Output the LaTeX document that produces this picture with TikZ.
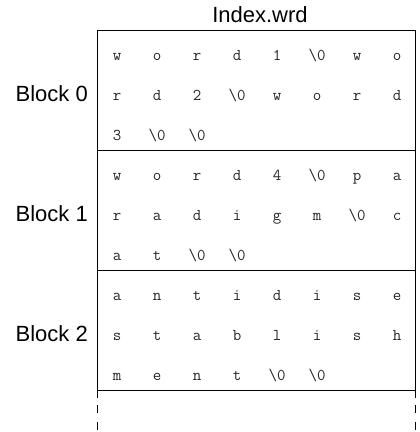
\documentclass[tikz,border=0pt]{standalone}
\usepackage{fontspec}
\setmainfont{Liberation Sans}
\begin{document}
\begin{tikzpicture}[x=1pt,y=-1pt,
  blockbox/.style={draw=black,line width=1pt,minimum width=318pt,minimum height=120pt,inner sep=0pt,outer sep=0pt},
  cell/.style={anchor=base,inner sep=0pt,text=black!85,font=\ttfamily\fontsize{16.5}{19}\selectfont},
  blabel/.style={anchor=base east,inner sep=0pt,font=\fontsize{22}{26}\selectfont},
  title/.style={anchor=base,inner sep=0pt,font=\fontsize{22}{26}\selectfont},
  contline/.style={line width=1pt,dash pattern=on 8pt off 7pt on 8pt off 9pt on 8pt off 10pt}]
\useasboundingbox (0,0) rectangle (420,432);
\node[title] (title) at (260,22) {Index.wrd};
\node[blockbox] (b0) at (256.5,90) {};
\node[blockbox] (b1) at (256.5,210) {};
\node[blockbox] (b2) at (256.5,330) {};
\node[blabel] (l0) at (88,101) {Block 0};
\node[blabel] (l1) at (88,221) {Block 1};
\node[blabel] (l2) at (88,341) {Block 2};
\def\zz{\symbol{92}0}
% block 0
\foreach \t [count=\i from 0] in {w,o,r,d,1,\zz,w,o}
  \node[cell] (a1-\i) at (117+40*\i,60) {\t};
\foreach \t [count=\i from 0] in {r,d,2,\zz,w,o,r,d}
  \node[cell] (a2-\i) at (117+40*\i,100) {\t};
\foreach \t [count=\i from 0] in {3,\zz,\zz}
  \node[cell] (a3-\i) at (117+40*\i,140) {\t};
% block 1
\foreach \t [count=\i from 0] in {w,o,r,d,4,\zz,p,a}
  \node[cell] (b1-\i) at (117+40*\i,180) {\t};
\foreach \t [count=\i from 0] in {r,a,d,i,g,m,\zz,c}
  \node[cell] (b2-\i) at (117+40*\i,220) {\t};
\foreach \t [count=\i from 0] in {a,t,\zz,\zz}
  \node[cell] (b3-\i) at (117+40*\i,260) {\t};
% block 2
\foreach \t [count=\i from 0] in {a,n,t,i,d,i,s,e}
  \node[cell] (c1-\i) at (117+40*\i,300) {\t};
\foreach \t [count=\i from 0] in {s,t,a,b,l,i,s,h}
  \node[cell] (c2-\i) at (117+40*\i,340) {\t};
\foreach \t [count=\i from 0] in {m,e,n,t,\zz,\zz}
  \node[cell] (c3-\i) at (117+40*\i,380) {\t};
\coordinate (endl) at (97.5,432);
\coordinate (endr) at (415.5,432);
\draw[contline] (b2.south west) -- (endl);
\draw[contline] (b2.south east) -- (endr);
\end{tikzpicture}
\end{document}
